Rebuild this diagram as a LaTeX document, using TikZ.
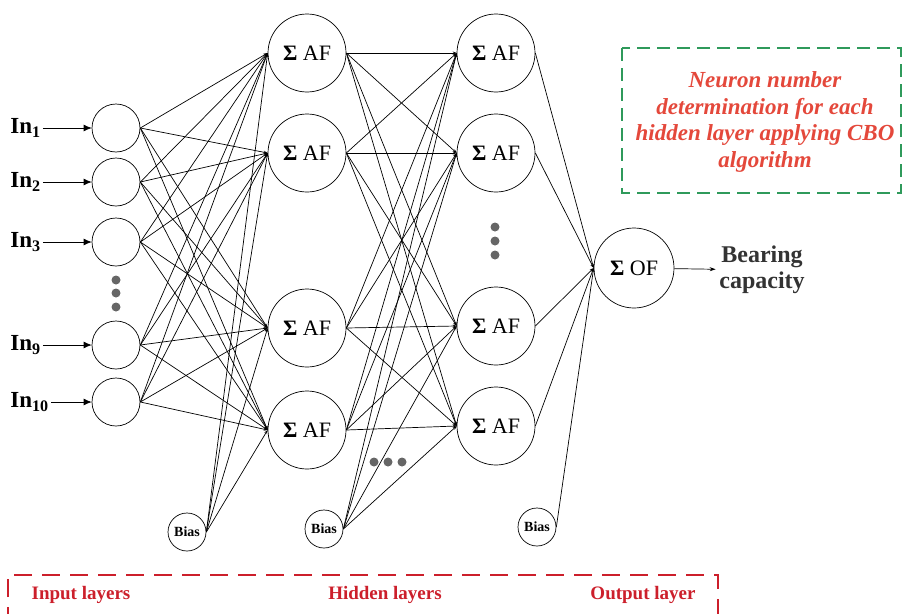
\documentclass[tikz,border=0pt]{standalone}
\usepackage{fontspec}
\setmainfont{Liberation Serif}
\usetikzlibrary{arrows.meta}
\definecolor{cborange}{HTML}{E4483B}
\definecolor{layerred}{HTML}{CC1F2B}
\definecolor{boxgreen}{HTML}{2F9A5B}
\definecolor{dotgray}{HTML}{666666}
\definecolor{capgray}{HTML}{333333}

\begin{document}
\begin{tikzpicture}[x=1pt,y=-1pt, line width=.7pt, font=\fontsize{22}{26}\selectfont,
    wire/.style={-{Stealth[length=4pt,width=3pt]}},
    inarrow/.style={-{Latex[length=8pt,width=7pt]}}]
            \useasboundingbox (0,0) rectangle (904,613);
            \begin{scope}[every node/.style={circle,draw,minimum size=48pt,inner sep=0pt}]
            \node (in1) at (116,128) {};
            \node (in2) at (116,182) {};
            \node (in3) at (116,242) {};
            \node (in9) at (116,345) {};
            \node (in10) at (116,402) {};
            \end{scope}
            \begin{scope}[every node/.style={anchor=west,inner sep=2pt,font=\fontsize{23}{26}\selectfont\bfseries}]
            \node (l1) at (8,128) {In\textsubscript{1}};
            \node (l2) at (8,182) {In\textsubscript{2}};
            \node (l3) at (8,242) {In\textsubscript{3}};
            \node (l9) at (8,345) {In\textsubscript{9}};
            \node (l10) at (8,402) {In\textsubscript{10}};
            \end{scope}
            \begin{scope}[every node/.style={circle,draw,minimum size=78pt,inner sep=0pt}]
            \node (a1) at (307,53) {\textbf{Σ} AF};
            \node (a2) at (307,153) {\textbf{Σ} AF};
            \node (a3) at (307,328) {\textbf{Σ} AF};
            \node (a4) at (307,430) {\textbf{Σ} AF};
            \node (b1) at (496,53) {\textbf{Σ} AF};
            \node (b2) at (496,153) {\textbf{Σ} AF};
            \node (b3) at (496,326) {\textbf{Σ} AF};
            \node (b4) at (496,426) {\textbf{Σ} AF};
            \node[minimum size=80pt] (out) at (634,268) {\textbf{Σ} OF};
            \end{scope}
            \begin{scope}[every node/.style={circle,draw,minimum size=38pt,inner sep=0pt,font=\fontsize{14}{16}\selectfont\bfseries}]
            \node (bias1) at (187,532) {Bias};
            \node (bias2) at (324,529) {Bias};
            \node (bias3) at (537,527) {Bias};
            \end{scope}
            % inputs
            \foreach \i in {1,2,3,9,10}
              \draw[inarrow] (l\i) -- (in\i);
            \foreach \i in {1,2,3,9,10}
              \foreach \j in {1,...,4}
                \draw[wire] (in\i.east) -- (a\j.west);
            \foreach \j in {1,...,4}
              \draw[wire] (bias1.east) -- (a\j.west);
            % hidden to hidden
            \foreach \i in {1,...,4}
              \foreach \j in {1,...,4}
                \draw[wire] (a\i.east) -- (b\j.west);
            \foreach \j in {1,...,4}
              \draw[wire] (bias2.east) -- (b\j.west);
            % output
            \foreach \i in {1,...,4}
              \draw[wire] (b\i.east) -- (out.west);
            \draw[wire] (bias3.east) -- (out.west);
            \node[align=center,text=capgray,font=\fontsize{24}{26}\selectfont\bfseries] (cap) at (762,270) {Bearing\\capacity};
            \draw[-{Stealth[length=6pt,width=4pt]}] (out) -- (cap);
            % dots
            \fill[dotgray] (116,280) circle (4.5pt) (116,293) circle (4.5pt) (116,307) circle (4.5pt);
            \fill[dotgray] (495,227) circle (4.5pt) (495,241) circle (4.5pt) (495,255) circle (4.5pt);
            \fill[dotgray] (374,462) circle (4.5pt) (388,462) circle (4.5pt) (402,462) circle (4.5pt);
            % boxes
            \draw[boxgreen,line width=1.6pt,dash pattern=on 13pt off 7pt] (622,48) rectangle (901,193);
            \node[align=center,text=cborange,font=\fontsize{23}{26.5}\selectfont\bfseries\itshape] (cbo) at (765,122)
              {Neuron number\\determination for each\\hidden layer applying CBO\\algorithm};
            \draw[layerred,line width=2pt,dash pattern=on 18pt off 10pt] (8,625) -- (8,575) -- (718,575) -- (718,625);
            \begin{scope}[every node/.style={text=layerred,font=\fontsize{19}{21}\selectfont\bfseries}]
            \node (inl) at (81,595) {Input layers};
            \node (hidl) at (385,595) {Hidden layers};
            \node (outl) at (643,595) {Output layer};
            \end{scope}
\end{tikzpicture}
\end{document}
